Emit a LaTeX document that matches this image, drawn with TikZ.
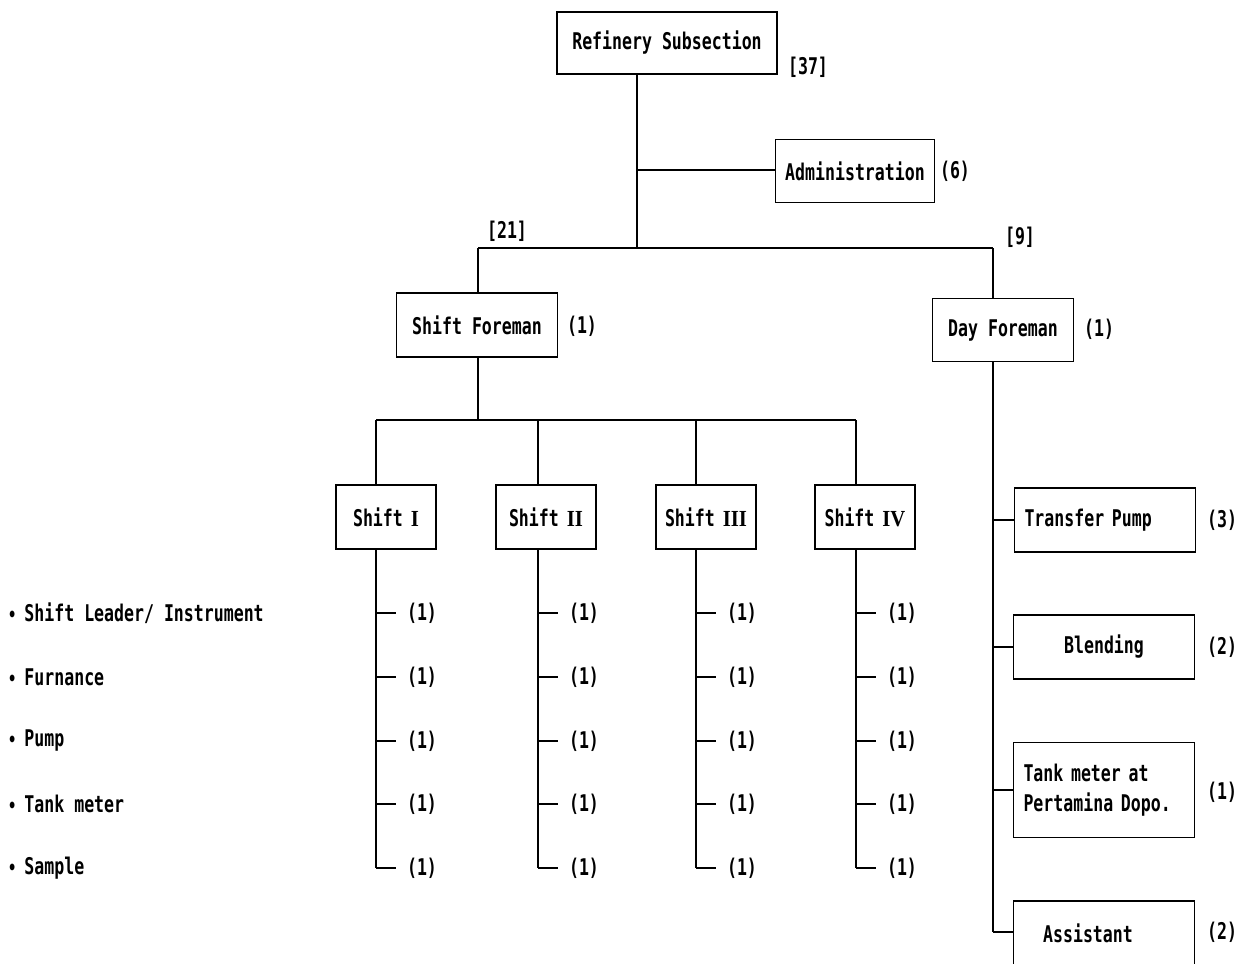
\documentclass[tikz,border=0pt]{standalone}
\usepackage{fontspec}
\setmainfont{DejaVu Sans Mono}[FakeStretch=0.72]
\newfontfamily\romfont{Liberation Serif}[FakeStretch=0.9]
\begin{document}
\begin{tikzpicture}[x=1pt,y=-1pt,
  every node/.style={font=\fontsize{23}{27}\selectfont\bfseries, inner sep=0pt},
  box/.style={draw, line width=1.3pt, minimum height=63pt},
  shiftbox/.style={box, minimum width=100pt, minimum height=64pt},
  rbox/.style={box, minimum width=181pt},
  ln/.style={line width=1.7pt},
  tick/.style={line width=1.2pt}]
\useasboundingbox (0,0) rectangle (1249,963);

% top
\node[box, minimum width=220pt, minimum height=62pt] (rs) at (667,43) {Refinery Subsection};
\node (n37) at (808,67) {[37]};
\node[box, minimum width=159pt] (adm) at (855,171) {Administration};
\node (n6) at (955,171) {(6)};
\coordinate (ja) at (637,170);
\coordinate (jm) at (637,248);
\coordinate (jl) at (478,248);
\coordinate (jr) at (993,248);
\draw[ln] (rs.south -| jm) -- (jm);
\draw[ln] (ja) -- (adm.west |- ja);
\draw[ln] (jl) -- (jr);

\node (n21) at (507,231) {[21]};
\node (n9) at (1020,237) {[9]};

\node[box, minimum width=161pt, minimum height=64pt] (sf) at (477,325) {Shift Foreman};
\node (sf1) at (582,326) {(1)};
\node[box, minimum width=141pt] (df) at (1003,330) {Day Foreman};
\node (df1) at (1099,329) {(1)};
\draw[ln] (jl) -- (sf.north -| jl);
\draw[ln] (jr) -- (df.north -| jr);

% shifts
\coordinate (sl) at (376,420);
\coordinate (sr) at (856,420);
\coordinate (sm) at (478,420);
\draw[ln] (sf.south -| sm) -- (sm);
\draw[ln] (sl) -- (sr);

\foreach \i/\lx/\cx/\rn in {1/376/386/I, 2/538/546/II, 3/696/706/III, 4/856/865/IV}{
  \node[shiftbox] (s\i) at (\cx,517) {Shift\hspace{8pt}{\romfont\bfseries\rn}};
  \coordinate (t\i) at (\lx,420);
  \coordinate (b\i) at (\lx,868);
  \draw[ln] (t\i) -- (s\i.north -| t\i);
  \draw[ln] (s\i.south -| t\i) -- (b\i);
  \foreach \y [count=\k] in {613,677,741,804,868}{
    \coordinate (c\i\k) at (\lx,\y);
    \node (v\i\k) at (\lx+46,\y) {(1)};
    \draw[tick] (c\i\k) -- ([xshift=20pt]c\i\k);
  }
}

% legend
\foreach \t [count=\k] in {Shift Leader/ Instrument, Furnance, Pump, Tank meter, Sample}{
  \node[anchor=west] (lg\k) at (8,{613+(\k-1)*63.8}) {{\fontsize{19}{19}\selectfont\textbullet}\hspace{8pt}\t};
}

% day foreman branch
\coordinate (dtop) at (993,361);
\coordinate (dbot) at (993,932);
\draw[ln] (df.south -| dtop) -- (dbot);

\node[rbox, text width=161pt, align=left, minimum height=64pt] (tp) at (1105,520) {Transfer Pump};
\node (tp3) at (1222,520) {(3)};
\node[rbox, minimum height=64pt] (bl) at (1104,647) {Blending};
\node (bl2) at (1222,647) {(2)};
\node[rbox, text width=161pt, align=left, minimum height=95pt, font=\fontsize{23}{30}\selectfont\bfseries] (tm) at (1104,790) {Tank meter at\\Pertamina Dopo.};
\node (tm1) at (1222,792) {(1)};
\node[rbox, minimum height=64pt] (as) at (1104,933) {\hspace*{-32pt}Assistant};
\node (as2) at (1222,932) {(2)};

\draw[tick] (tp.west -| dtop) -- (tp.west);
\draw[tick] (dtop |- bl.west) -- (bl.west);
\draw[tick] (dtop |- tm.west) -- (tm.west);
\draw[tick] (dbot) -- (as.west |- dbot);
\end{tikzpicture}
\end{document}
